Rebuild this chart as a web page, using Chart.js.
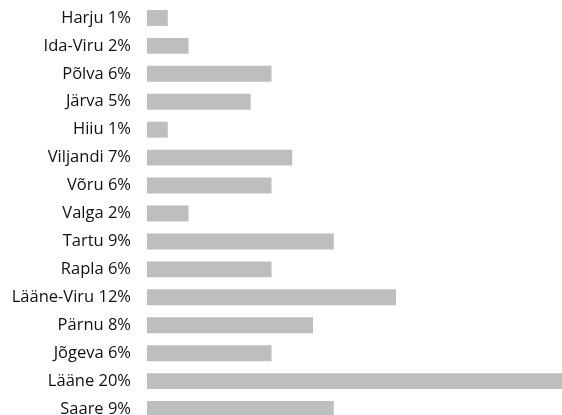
<!DOCTYPE html>
<html>
<head>
<meta charset="utf-8">
<script src="https://cdn.jsdelivr.net/npm/chart.js@4"></script>
<style>
    html, body { margin: 0; padding: 0; background: #fff; overflow: hidden; }
    #wrap { position: relative; width: 562px; height: 425px; }
</style>
</head>
<body>
<div id="wrap"><canvas id="countyChart"></canvas></div>
<script>
// Share by county, percent
const counties = ['Harju', 'Ida-Viru', 'Põlva', 'Järva', 'Hiiu', 'Viljandi', 'Võru', 'Valga',
    'Tartu', 'Rapla', 'Lääne-Viru', 'Pärnu', 'Jõgeva', 'Lääne', 'Saare'];
const shares = [1, 2, 6, 5, 1, 7, 6, 2, 9, 6, 12, 8, 6, 20, 9];

const tickLabels = counties.map((name, i) => name + ' ' + shares[i] + '%');

const ctx = document.getElementById('countyChart').getContext('2d');

const countyChart = new Chart(ctx, {
    type: 'bar',
    data: {
        labels: tickLabels,
        datasets: [{
            data: shares,
            backgroundColor: '#bdbec0',
            borderWidth: 0,
            barPercentage: 0.57,
            categoryPercentage: 1.0
        }]
    },
    options: {
        indexAxis: 'y',
        responsive: true,
        maintainAspectRatio: false,
        animation: false,
        layout: {
            padding: { top: 4, bottom: 2, left: 0, right: 0 }
        },
        plugins: {
            legend: { display: false },
            tooltip: { enabled: false }
        },
        scales: {
            x: {
                display: false,
                min: 0,
                max: 20
            },
            y: {
                grid: { display: false, drawTicks: false },
                border: { display: false },
                ticks: {
                    padding: 16,
                    color: '#111111',
                    font: { family: 'Open Sans', size: 16.5 }
                },
                // fixed label column, no extra room above/below the bars
                afterFit: function(scale) {
                    scale.width = 147;
                    scale.paddingTop = 0;
                    scale.paddingBottom = 0;
                }
            }
        }
    }
});
</script>
</body>
</html>
